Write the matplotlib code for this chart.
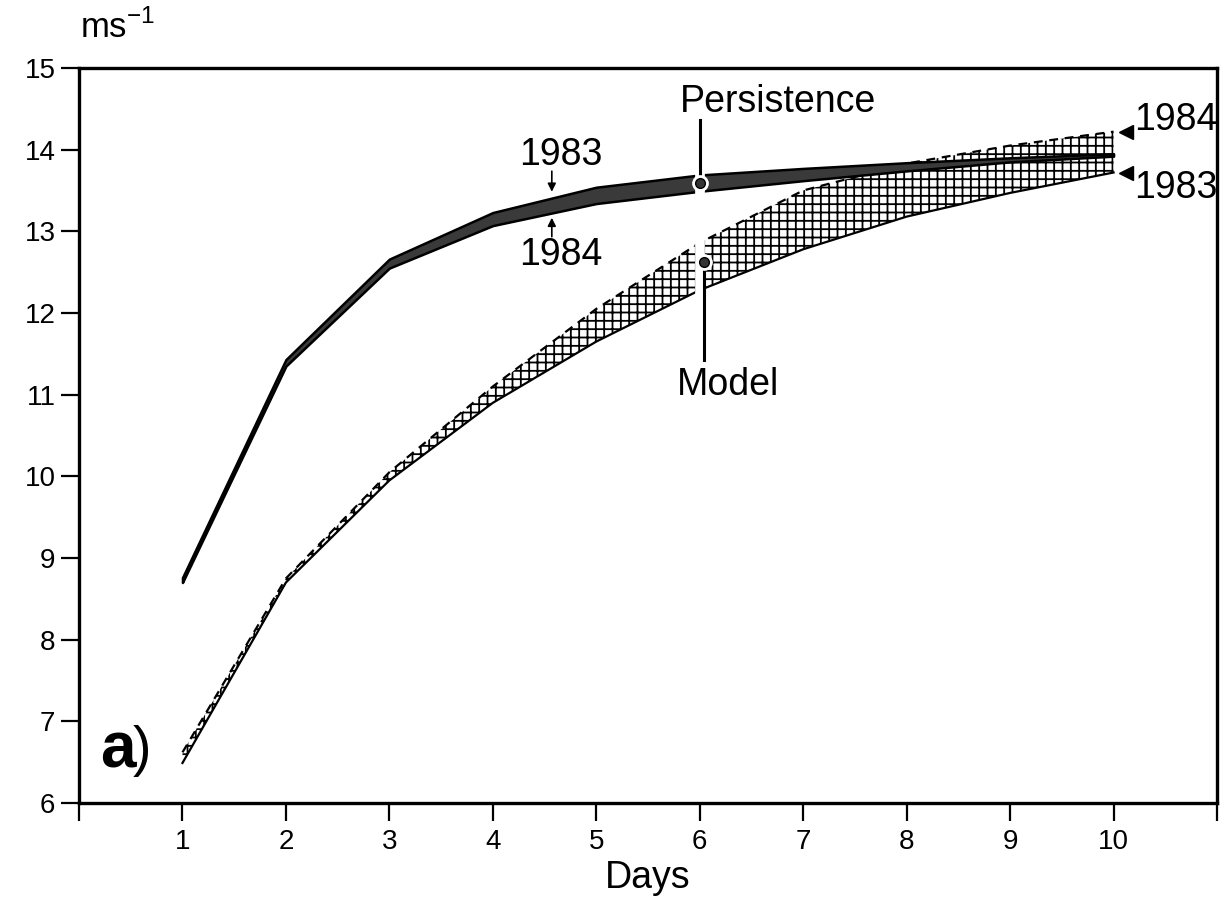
import matplotlib
matplotlib.use("Agg")
import matplotlib.pyplot as plt
import numpy as np

plt.rcParams['font.family'] = ['Liberation Sans', 'DejaVu Sans']
plt.rcParams['hatch.linewidth'] = 1.3
plt.rcParams['mathtext.fontset'] = 'custom'
plt.rcParams['mathtext.rm'] = 'Liberation Sans'

days = [1, 2, 3, 4, 5, 6, 7, 8, 9, 10]
persist_1983 = [8.76, 11.43, 12.66, 13.23, 13.54, 13.69, 13.77, 13.84, 13.90, 13.95]
persist_1984 = [8.70, 11.35, 12.55, 13.07, 13.34, 13.49, 13.62, 13.74, 13.85, 13.92]
model_1983 = [6.49, 8.70, 9.95, 10.90, 11.65, 12.28, 12.78, 13.18, 13.47, 13.72]
model_1984 = [6.62, 8.75, 10.05, 11.10, 12.05, 12.86, 13.50, 13.83, 14.05, 14.22]

xticks = list(range(0, 12))
xticklabels = ['' if t in (0, 11) else str(t) for t in xticks]
yticks = list(range(6, 16))

fig = plt.figure(figsize=(12.25, 9.05), dpi=100)
ax = fig.add_axes([0.0645, 0.1127, 0.929, 0.8122])

# Model band (crosshatched)
ax.fill_between(days, model_1983, model_1984, facecolor='white', edgecolor='black',
                hatch='++', linewidth=0, zorder=2)
ax.plot(days, model_1983, color='black', lw=1.6, zorder=3)
ax.plot(days, model_1984, color='black', lw=1.6, ls=(0, (4, 3)), zorder=3)

# Persistence band (dark stipple)
ax.fill_between(days, persist_1984, persist_1983, facecolor='#3a3a3a', edgecolor='black',
                linewidth=1.8, zorder=4)

# white gaps for pointers
ax.plot([6.0, 6.0], [13.33, 13.87], color='white', lw=7, zorder=5, solid_capstyle='butt')
ax.plot([6.0, 6.0], [12.15, 13.05], color='white', lw=7, zorder=5, solid_capstyle='butt')

# Persistence pointer
ax.plot([6.0, 6.0], [13.59, 14.36], color='black', lw=2.2, zorder=6)
ax.plot([6.0], [13.59], marker='o', ms=11, mfc='white', mec='white', zorder=6)
ax.plot([6.0], [13.59], marker='o', ms=7, mfc='#333333', mec='black', zorder=7)
ax.text(5.81, 14.46, 'Persistence', fontsize=27, ha='left', va='baseline', zorder=8)

# Model pointer
ax.plot([6.04, 6.04], [12.63, 11.43], color='black', lw=2.2, zorder=6)
ax.plot([6.04], [12.63], marker='o', ms=11, mfc='white', mec='white', zorder=6)
ax.plot([6.04], [12.63], marker='o', ms=7, mfc='#333333', mec='black', zorder=7)
ax.text(6.27, 11.12, 'Model', fontsize=27, ha='center', va='center', zorder=8)

# 1983/1984 persistence arrows
ax.annotate('', xy=(4.57, 13.45), xytext=(4.57, 13.77),
            arrowprops=dict(arrowstyle='-|>', color='black', lw=1.2, mutation_scale=12), zorder=8)
ax.annotate('', xy=(4.57, 13.2), xytext=(4.57, 12.9),
            arrowprops=dict(arrowstyle='-|>', color='black', lw=1.2, mutation_scale=12), zorder=8)
ax.text(4.66, 13.94, '1983', fontsize=27, ha='center', va='center', zorder=8)
ax.text(4.66, 12.71, '1984', fontsize=27, ha='center', va='center', zorder=8)

# right-end markers
ax.plot([10.12], [14.22], marker='<', ms=10, color='black', clip_on=False, zorder=8)
ax.plot([10.12], [13.71], marker='<', ms=10, color='black', clip_on=False, zorder=8)
ax.text(10.2, 14.36, '1984', fontsize=27, ha='left', va='center', clip_on=False, zorder=8)
ax.text(10.2, 13.53, '1983', fontsize=27, ha='left', va='center', clip_on=False, zorder=8)

# panel label
ax.text(0.2, 6.64, 'a', fontsize=46, fontweight='bold', ha='left', va='center')
ax.text(0.52, 6.64, ')', fontsize=40, ha='left', va='center')

ax.set_xlim(0, 11)
ax.set_ylim(6, 15)
ax.set_xticks(xticks)
ax.set_xticklabels(xticklabels)
ax.set_yticks(yticks)
ax.tick_params(axis='both', direction='out', length=13, width=1.6, labelsize=20, pad=6)
ax.tick_params(axis='y', pad=4)
for s in ax.spines.values():
    s.set_linewidth(2.4)
ax.set_xlabel('Days', fontsize=27, labelpad=3)

fig.text(80 / 1225, 1 - 38 / 905, 'ms$^{-1}$', fontsize=25, ha='left', va='baseline')

fig.savefig('out.png', dpi=100)
